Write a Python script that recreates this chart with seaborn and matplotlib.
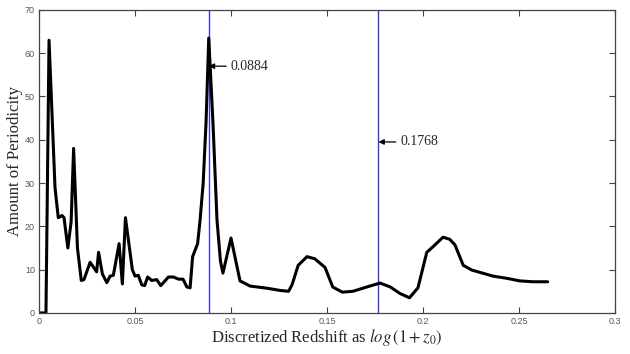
import numpy as np
import pandas as pd
import matplotlib
matplotlib.use('Agg')
import matplotlib.pyplot as plt
import seaborn as sns

# 주기성 곡선
redshift = [0.0, 0.0036, 0.0052, 0.0083, 0.010, 0.012, 0.013, 0.015, 0.0167, 0.018,
            0.020, 0.022, 0.0234, 0.0266, 0.030, 0.031, 0.033, 0.0353, 0.037, 0.0387,
            0.0417, 0.0434, 0.045, 0.0465, 0.0486, 0.050, 0.0517, 0.0535, 0.055, 0.0566,
            0.0587, 0.0613, 0.0634, 0.0648, 0.0674, 0.070, 0.0727, 0.075, 0.077, 0.0787,
            0.0800, 0.0813, 0.0826, 0.0839, 0.0855, 0.087, 0.0884, 0.0906, 0.0927, 0.0945,
            0.0958, 0.100, 0.1047, 0.110,
            0.119, 0.1255, 0.130, 0.1318, 0.135, 0.1396, 0.1437, 0.149, 0.153, 0.158,
            0.1635, 0.1708, 0.1776, 0.183, 0.188, 0.193, 0.1974, 0.202, 0.205, 0.2105,
            0.214, 0.2167, 0.221, 0.2255, 0.2365, 0.2437, 0.2505, 0.2573, 0.265]
periodicity = [0.0, 0.0, 63.0, 29.0, 22.0, 22.5, 22.0, 15.0, 21.0, 38.0,
               15.0, 7.5, 7.7, 11.7, 9.5, 14.0, 9.0, 7.0, 8.5, 8.7,
               16.0, 6.7, 22.0, 17.0, 10.0, 8.5, 8.7, 6.5, 6.3, 8.3,
               7.5, 7.7, 6.3, 7.0, 8.3, 8.3, 7.8, 7.8, 6.0, 5.8,
               13.0, 14.5, 16.0, 21.5, 30.0, 44.0, 63.5, 44.0, 21.5, 12.0,
               9.2, 17.3, 7.4, 6.2,
               5.7, 5.2, 5.0, 6.5, 11.0, 13.0, 12.5, 10.5, 6.0, 4.8,
               5.0, 6.0, 6.9, 6.0, 4.5, 3.5, 5.8, 14.0, 15.2, 17.5,
               17.0, 15.7, 11.0, 9.9, 8.5, 8.0, 7.4, 7.2, 7.2]

peaks = [0.0884, 0.1768]
peak_labels = ['0.0884', '0.1768']
arrow_y = [57, 39.5]

df = pd.DataFrame({'z': redshift, 'amount': periodicity})

sns.set_style('ticks')
plt.rcParams['font.family'] = ['Liberation Serif', 'DejaVu Serif']
plt.rcParams['mathtext.fontset'] = 'stix'

fig, ax = plt.subplots(figsize=(6.3, 3.54), dpi=100)
fig.subplots_adjust(left=0.062, right=0.976, top=0.972, bottom=0.116)

for p in peaks:
    ax.axvline(p, color='#3a3ad8', lw=1.0, zorder=1)

sns.lineplot(data=df, x='z', y='amount', color='black', lw=2.2, ax=ax, zorder=2)

for p, lab, yy in zip(peaks, peak_labels, arrow_y):
    ax.annotate(lab, xy=(p, yy), xytext=(p + 0.0115, yy),
                va='center', ha='left', fontsize=10,
                arrowprops=dict(arrowstyle='-|>', color='black', lw=0.9,
                                mutation_scale=8, shrinkA=1, shrinkB=0))

ax.set_xlim(0, 0.3)
ax.set_ylim(0, 70)
ax.set_xticks([0, 0.05, 0.1, 0.15, 0.2, 0.25, 0.3])
ax.set_xticklabels(['0', '0.05', '0.1', '0.15', '0.2', '0.25', '0.3'])
ax.set_yticks(range(0, 71, 10))
for lab in ax.get_xticklabels() + ax.get_yticklabels():
    lab.set_family(['Liberation Sans', 'DejaVu Sans'])
    lab.set_fontsize(6.5)
    lab.set_color('#555555')
ax.tick_params(direction='in', top=True, right=True, length=4, width=0.8, color='#444444', pad=3)
for s in ax.spines.values():
    s.set_color('#444444')
    s.set_linewidth(0.9)

ax.set_xlabel('Discretized Redshift as $log\\,(1+z_0)$', fontsize=12, labelpad=1)
ax.set_ylabel('Amount of Periodicity', fontsize=12, labelpad=1)

fig.savefig('out.png', dpi=100)
